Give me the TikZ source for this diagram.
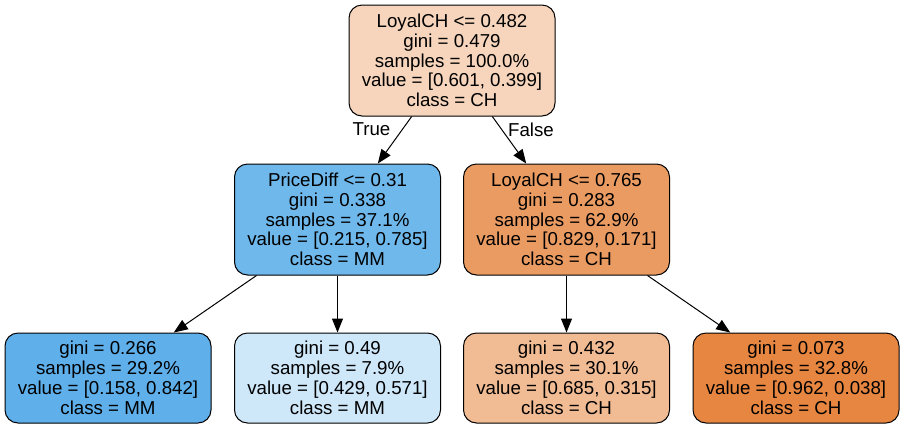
\documentclass[tikz,border=0pt]{standalone}
\usepackage{fontspec}
\setmainfont{Liberation Sans}
\usetikzlibrary{arrows.meta}
\definecolor{cRoot}{RGB}{246,213,188}
\definecolor{cML}{RGB}{111,184,236}
\definecolor{cMR}{RGB}{234,155,98}
\definecolor{cLa}{RGB}{94,175,234}
\definecolor{cLb}{RGB}{206,231,249}
\definecolor{cLc}{RGB}{241,187,148}
\definecolor{cLd}{RGB}{230,134,65}
\begin{document}
\begin{tikzpicture}[x=1pt,y=-1pt,
  treenode/.style={draw=black, line width=1pt, rounded corners=13pt, align=center,
    inner sep=0pt, minimum width=206pt, font=\fontsize{18.7}{19.8}\selectfont},
  split/.style={treenode, minimum height=111pt},
  leaf/.style={treenode, minimum height=90pt},
  edge/.style={draw=black, line width=1pt, -{Triangle[length=14pt,width=11pt]}},
  elabel/.style={font=\fontsize{18.7}{19.8}\selectfont, inner sep=0pt}]
\useasboundingbox (0,0) rectangle (904,429);
\node[split, fill=cRoot] (root) at (452,60.5) {LoyalCH <= 0.482\\gini = 0.479\\samples = 100.0\%\\value = [0.601, 0.399]\\class = CH};
\node[split, fill=cML] (ml) at (337.5,219.5) {PriceDiff <= 0.31\\gini = 0.338\\samples = 37.1\%\\value = [0.215, 0.785]\\class = MM};
\node[split, fill=cMR] (mr) at (566.5,219.5) {LoyalCH <= 0.765\\gini = 0.283\\samples = 62.9\%\\value = [0.829, 0.171]\\class = CH};
\node[leaf, fill=cLa] (la) at (108,378) {gini = 0.266\\samples = 29.2\%\\value = [0.158, 0.842]\\class = MM};
\node[leaf, fill=cLb] (lb) at (337.5,378) {gini = 0.49\\samples = 7.9\%\\value = [0.429, 0.571]\\class = MM};
\node[leaf, fill=cLc] (lc) at (566.5,378) {gini = 0.432\\samples = 30.1\%\\value = [0.685, 0.315]\\class = CH};
\node[leaf, fill=cLd] (ld) at (796,378) {gini = 0.073\\samples = 32.8\%\\value = [0.962, 0.038]\\class = CH};
\draw[edge] (root) -- (ml);
\draw[edge] (root) -- (mr);
\draw[edge] (ml) -- (la);
\draw[edge] (ml) -- (lb);
\draw[edge] (mr) -- (lc);
\draw[edge] (mr) -- (ld);
\node[elabel] (tl) at (371.5,129.5) {True};
\node[elabel] (fl) at (531,129.5) {False};
\end{tikzpicture}
\end{document}
